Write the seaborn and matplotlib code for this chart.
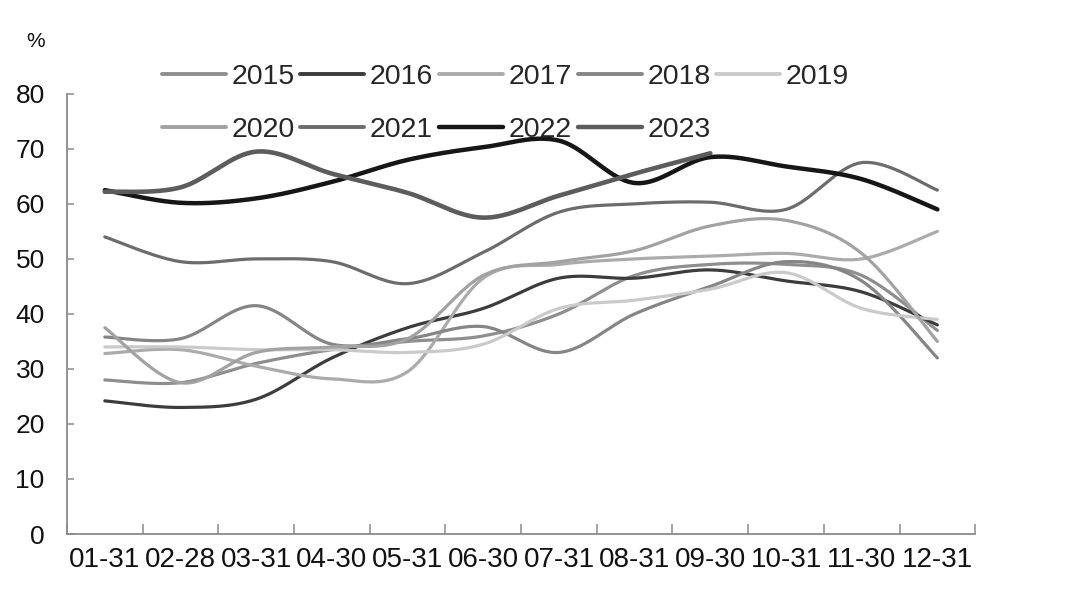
import numpy as np
import pandas as pd
import matplotlib
matplotlib.use("Agg")
import matplotlib.pyplot as plt
import seaborn as sns
from matplotlib.lines import Line2D

# ---- data ----
categories = ["01-31", "02-28", "03-31", "04-30", "05-31", "06-30",
              "07-31", "08-31", "09-30", "10-31", "11-30", "12-31"]
years = ["2015", "2016", "2017", "2018", "2019", "2020", "2021", "2022", "2023"]
nan = np.nan
y2015 = [28.0, 27.5, 31.0, 33.5, 35.0, 36.0, 40.0, 47.0, 49.0, 49.0, 47.0, 37.0]
y2016 = [24.2, 23.0, 24.5, 32.0, 37.5, 41.0, 46.5, 46.5, 48.0, 46.0, 44.0, 38.0]
y2017 = [32.8, 33.5, 30.5, 28.2, 29.5, 46.5, 49.0, 50.0, 50.5, 51.0, 50.0, 55.0]
y2018 = [35.8, 35.5, 41.5, 34.5, 35.5, 37.7, 33.0, 40.0, 45.0, 49.5, 46.0, 32.0]
y2019 = [34.0, 34.0, 33.5, 33.5, 33.0, 34.5, 41.0, 42.5, 44.5, 47.5, 41.0, 39.0]
y2020 = [37.5, 27.5, 33.0, 34.0, 35.5, 47.0, 49.5, 51.5, 56.0, 57.0, 51.0, 35.0]
y2021 = [54.0, 49.5, 50.0, 49.5, 45.5, 51.2, 58.5, 60.0, 60.3, 59.0, 67.5, 62.5]
y2022 = [62.5, 60.2, 61.0, 64.0, 68.0, 70.3, 71.5, 63.8, 68.5, 66.8, 64.5, 59.0]
y2023 = [62.2, 63.0, 69.5, 65.5, 62.0, 57.5, 61.5, 65.5, 69.2, nan, nan, nan]
series = [y2015, y2016, y2017, y2018, y2019, y2020, y2021, y2022, y2023]

colors = {"2015": "#8e8e8e", "2016": "#3c3c3c", "2017": "#ababab", "2018": "#858585",
          "2019": "#cacaca", "2020": "#a2a2a2", "2021": "#6c6c6c", "2022": "#161616",
          "2023": "#5c5c5c"}
widths = {"2015": 2.3, "2016": 2.3, "2017": 2.3, "2018": 2.3, "2019": 2.3,
          "2020": 2.3, "2021": 2.3, "2022": 3.2, "2023": 3.3}


def smooth(xs, ys, n=40):
    """Excel-style smoothed line (Bezier with Catmull-Rom tangents)."""
    pts = np.column_stack([xs, ys])
    out = []
    m = len(pts)
    for i in range(m - 1):
        p0 = pts[i - 1] if i > 0 else pts[i]
        p1 = pts[i]
        p2 = pts[i + 1]
        p3 = pts[i + 2] if i + 2 < m else pts[i + 1]
        c1 = p1 + (p2 - p0) / 6.0
        c2 = p2 - (p3 - p1) / 6.0
        t = np.linspace(0, 1, n)[:, None]
        seg = ((1 - t) ** 3) * p1 + 3 * ((1 - t) ** 2) * t * c1 + 3 * (1 - t) * t ** 2 * c2 + t ** 3 * p2
        out.append(seg if i == 0 else seg[1:])
    return np.vstack(out)


frames = []
for yr, vals in zip(years, series):
    v = np.array(vals, dtype=float)
    ok = ~np.isnan(v)
    xs = np.arange(len(categories))[ok]
    curve = smooth(xs.astype(float), v[ok])
    frames.append(pd.DataFrame({"x": curve[:, 0], "y": curve[:, 1], "year": yr,
                                "order": np.arange(len(curve))}))
df = pd.concat(frames, ignore_index=True)

sns.set_theme(style="white")
plt.rcParams["font.family"] = ["Liberation Sans", "DejaVu Sans"]

fig = plt.figure(figsize=(10.8, 5.94), dpi=100)
ax = fig.add_axes([0.062, 0.101, 0.841, 0.741])

for yr in years:
    d = df[df["year"] == yr]
    sns.lineplot(data=d, x="x", y="y", sort=False, estimator=None, ax=ax,
                 color=colors[yr], linewidth=widths[yr], solid_capstyle="round")

ax.set_xlim(-0.5, 11.5)
ax.set_ylim(0, 80)
ax.set_xlabel("")
ax.set_ylabel("")

axis_col = "#8a8a8a"
for s in ["top", "right"]:
    ax.spines[s].set_visible(False)
for s in ["left", "bottom"]:
    ax.spines[s].set_color(axis_col)
    ax.spines[s].set_linewidth(1.3)

ax.set_xticks(np.arange(-0.5, 12, 1.0))
ax.set_xticklabels([])
ax.set_xticks(np.arange(len(categories)), minor=True)
ax.set_xticklabels(categories, minor=True, fontsize=20, color="#111111")
ax.tick_params(axis="x", which="major", direction="in", length=7, width=1.1,
               color=axis_col, bottom=True)
ax.tick_params(axis="x", which="minor", length=0, pad=9, bottom=True)
ax.set_yticks(np.arange(0, 81, 10))
ax.tick_params(axis="y", direction="in", length=5, width=1.1, color=axis_col,
               left=True, pad=16, labelsize=19, labelcolor="#111111")

fig.text(0.024, 0.93, "%", fontsize=15, color="#111111", ha="left", va="center")

# legend entries read row-wise: 2015..2019 on the first row, 2020..2023 below
leg_order = ["2015", "2020", "2016", "2021", "2017", "2022", "2018", "2023", "2019"]
handles = [Line2D([0], [0], color=colors[y], lw=3.2 if y in ("2022", "2023") else 2.8)
           for y in leg_order]
fig.legend(handles, leg_order, loc="center", bbox_to_anchor=(0.468, 0.826), ncol=5,
           frameon=False, fontsize=20.5, handlelength=2.25, handletextpad=0.2,
           columnspacing=0.2, labelspacing=0.95)

fig.savefig("out.png", dpi=100, facecolor="white")
